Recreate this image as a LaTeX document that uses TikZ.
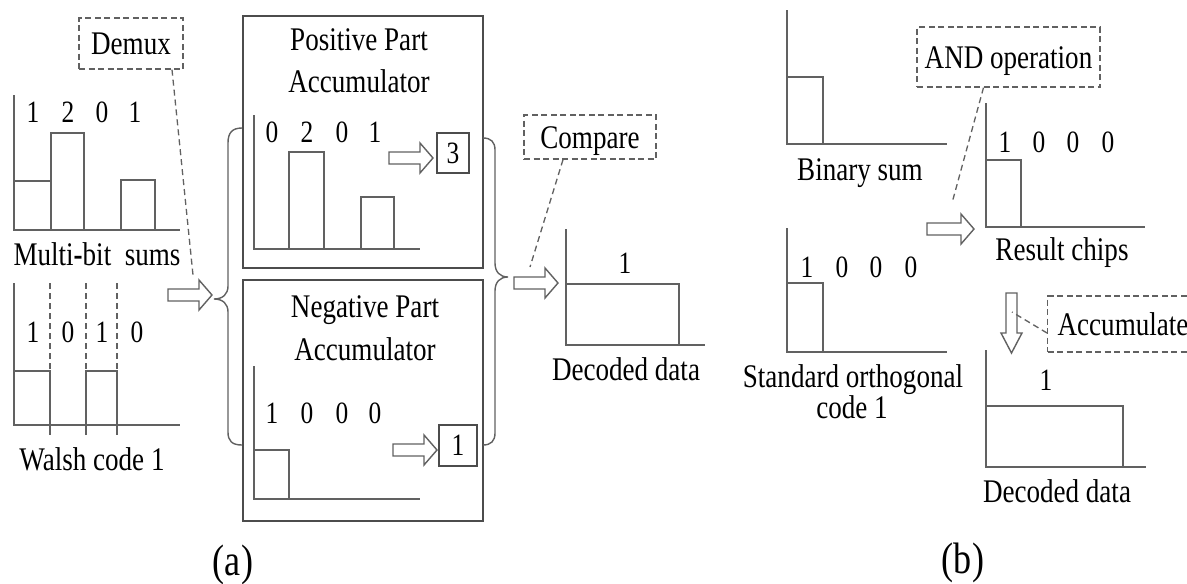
\documentclass[tikz,border=0pt]{standalone}
\usepackage{fontspec}
\usepackage{graphicx}
\setmainfont{Liberation Serif}
\newcommand\lbfont{\fontsize{33}{36}\selectfont}
\newcommand\dgfont{\fontsize{31}{34}\selectfont}
\newcommand\capfont{\fontsize{44}{48}\selectfont}
\newcommand\sq[1]{\scalebox{0.82}[1]{#1}}
\begin{document}
\begin{tikzpicture}[x=1pt,y=-1pt,
  ln/.style={draw=black!62, line width=1.4pt},
  bx/.style={draw=black!70, line width=1.4pt, inner sep=0pt},
  dsh/.style={draw=black!62, line width=1.3pt, dash pattern=on 6pt off 4pt},
  dbox/.style={draw=black!62, line width=1.3pt, dash pattern=on 6pt off 3.5pt, inner sep=0pt, text height=22pt, text depth=0pt, font=\lbfont},
  lbl/.style={inner sep=0pt, font=\lbfont, anchor=base},
  dg/.style={inner sep=0pt, font=\dgfont, anchor=base},
  vbox/.style={bx, font=\dgfont, text height=20pt, text depth=0pt},
  pics/harrow/.style={code={\draw[ln, fill=white] (0,-6) -- (#1-13,-6) -- (#1-13,-15) -- (#1,0) -- (#1-13,15) -- (#1-13,6) -- (0,6) -- cycle;}}
]
\useasboundingbox (0,0) rectangle (1187,584);

% ---------------- (a) ----------------
% Demux
\node[dbox, minimum width=104pt, minimum height=51pt] (demux) at (131,43.5) {\sq{Demux}};
\coordinate (demuxend) at (193,275);
\draw[dsh] ([xshift=41pt]demux.south) -- (demuxend);

% Multi-bit sums chart
\draw[ln] (14,95) -- (14,230) -- (180,230);
\draw[ln] (14,181) -- (51,181) -- (51,230);
\draw[ln] (51,230) -- (51,133) -- (84,133) -- (84,230);
\draw[ln] (121,230) -- (121,180) -- (155,180) -- (155,230);
\foreach \x/\t [count=\i] in {33/1,68/2,102/0,135/1} \node[dg] (ms\i) at (\x,122) {\sq{\t}};
\node[lbl] (mslab) at (97,265) {\sq{Multi{\bfseries -}bit\ \ sums}};

% Walsh code chart
\draw[ln] (14,283) -- (14,425) -- (180,425);
\draw[ln] (14,371) -- (50,371) -- (50,435);
\draw[ln] (86,435) -- (86,371) -- (117,371) -- (117,435);
\foreach \x in {50,86,117} \draw[dsh] (\x,283) -- (\x,371);
\foreach \x/\t [count=\i] in {33/1,68/0,102/1,137/0} \node[dg] (wc\i) at (\x,342) {\sq{\t}};
\node[lbl] (wclab) at (92,470) {\sq{Walsh code 1}};

% input arrow and left brace
\pic (arin) at (168,295) {harrow=44};
\draw[ln] (242,128) .. controls (232,128) and (228,133) .. (228,143) -- (228,286)
  .. controls (228,294) and (223,299) .. (214,299)
  .. controls (223,299) and (228,304) .. (228,312) -- (228,432)
  .. controls (228,441) and (232,445) .. (242,445);

% Positive part accumulator
\node[bx, minimum width=240pt, minimum height=252pt] (pos) at (363,142) {};
\node[lbl] (postitle1) at (359,50) {\sq{Positive Part}};
\node[lbl] (postitle2) at (359,92) {\sq{Accumulator}};
\draw[ln] (254,115) -- (254,249) -- (420,249);
\draw[ln] (289,249) -- (289,152) -- (324,152) -- (324,249);
\draw[ln] (361,249) -- (361,197) -- (394,197) -- (394,249);
\foreach \x/\t [count=\i] in {272/0,307/2,342/0,375/1} \node[dg] (pp\i) at (\x,142) {\sq{\t}};
\pic (arpos) at (389,158) {harrow=44};
\node[vbox, minimum width=32pt, minimum height=40pt] (posval) at (453,153) {\sq{3}};

% Negative part accumulator
\node[bx, minimum width=240pt, minimum height=241pt] (neg) at (363,400.5) {};
\node[lbl] (negtitle1) at (365,317) {\sq{Negative Part}};
\node[lbl] (negtitle2) at (365,360) {\sq{Accumulator}};
\draw[ln] (254,366) -- (254,499) -- (420,499);
\draw[ln] (254,450) -- (289,450) -- (289,499);
\foreach \x/\t [count=\i] in {272/1,307/0,342/0,375/0} \node[dg] (np\i) at (\x,423) {\sq{\t}};
\pic (arneg) at (393,450) {harrow=44};
\node[vbox, minimum width=38pt, minimum height=41pt] (negval) at (458,445.5) {\sq{1}};

% right brace
\draw[ln] (483,138) .. controls (491,138) and (495,142) .. (495,150) -- (495,263)
  .. controls (495,272) and (500,277) .. (508,277)
  .. controls (500,277) and (495,282) .. (495,291) -- (495,433)
  .. controls (495,441) and (491,445) .. (483,445);

% Compare
\node[dbox, minimum width=132pt, minimum height=44pt] (cmp) at (590,137) {\sq{Compare}};
\coordinate (cmpend) at (530,267);
\draw[dsh] ([xshift=-27pt]cmp.south) -- (cmpend);
\pic (arcmp) at (514,283) {harrow=44};
\draw[ln] (566,229) -- (566,345) -- (705,345);
\draw[ln] (566,284) -- (679,284) -- (679,345);
\node[dg] (dda) at (625,273) {\sq{1}};
\node[lbl] (ddalab) at (626,380) {\sq{Decoded data}};

\node[inner sep=0pt, font=\capfont, anchor=base] (capa) at (233,575) {\sq{(a)}};

% ---------------- (b) ----------------
% Binary sum
\draw[ln] (787,10) -- (787,144) -- (947,144);
\draw[ln] (787,77) -- (823,77) -- (823,144);
\node[lbl] (bslab) at (860,180) {\sq{Binary sum}};

% AND operation
\node[dbox, minimum width=183pt, minimum height=60pt] (andop) at (1008.5,57) {\sq{AND operation}};
\coordinate (andend) at (952,203);
\draw[dsh] ([xshift=-25pt]andop.south) -- (andend);
\pic (arand) at (927,229) {harrow=47};

% Result chips
\draw[ln] (986,103) -- (986,227) -- (1145,227);
\draw[ln] (986,160) -- (1021,160) -- (1021,227);
\foreach \x/\t [count=\i] in {1005/1,1039/0,1073/0,1108/0} \node[dg] (rc\i) at (\x,152) {\sq{\t}};
\node[lbl] (rclab) at (1062,260) {\sq{Result chips}};

% Standard orthogonal code 1
\draw[ln] (787,228) -- (787,352) -- (947,352);
\draw[ln] (787,283) -- (823,283) -- (823,352);
\foreach \x/\t [count=\i] in {807/1,842/0,876/0,911/0} \node[dg] (so\i) at (\x,277) {\sq{\t}};
\node[lbl] (solab1) at (853,387) {\sq{Standard orthogonal}};
\node[lbl] (solab2) at (852,418) {\sq{code 1}};

% down arrow
\draw[ln, fill=white] (1006,293) -- (1017,293) -- (1017,333) -- (1022,333) -- (1011.5,353)
  -- (1001,333) -- (1006,333) -- cycle;
\coordinate (accend) at (1012,312);

% Accumulate
\node[dbox, anchor=west, inner xsep=10pt, minimum height=56pt] (acc) at (1047,324) {\sq{Accumulate}};
\draw[dsh] ([yshift=-9pt]acc.west) -- (accend);

% Decoded data (b)
\draw[ln] (986,350) -- (986,467) -- (1146,467);
\draw[ln] (986,406) -- (1123,406) -- (1123,467);
\node[dg] (ddb) at (1046,390) {\sq{1}};
\node[lbl] (ddblab) at (1057,502) {\sq{Decoded data}};

\node[inner sep=0pt, font=\capfont, anchor=base] (capb) at (963,573) {\sq{(b)}};
\end{tikzpicture}
\end{document}
